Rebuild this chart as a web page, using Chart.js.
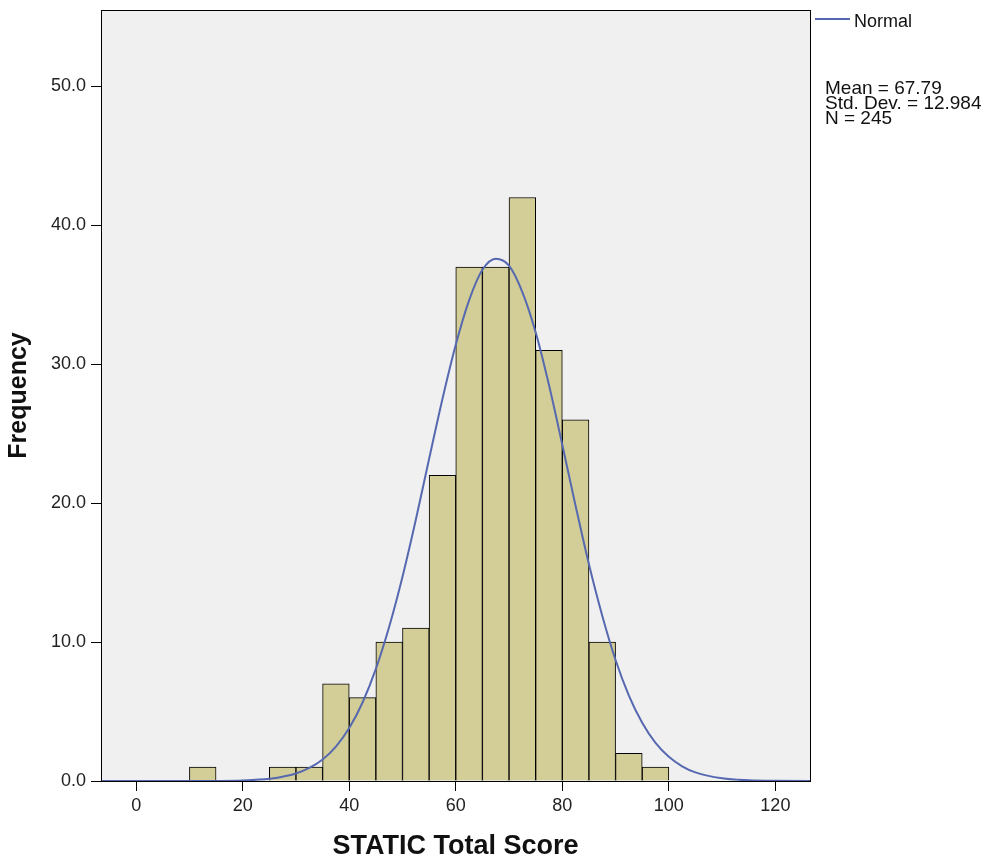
<!DOCTYPE html>
<html>
<head>
<meta charset="utf-8">
<script src="https://cdn.jsdelivr.net/npm/chart.js@4.4.1/dist/chart.umd.min.js"></script>
<style>
body { margin: 0; background: #fff; font-family: "Liberation Sans", Arial, sans-serif; }
#wrap { position: relative; width: 990px; height: 867px; }
#legend { position: absolute; left: 815px; top: 9px; color: #111; font-size: 18px; }
#legend .item { position: relative; height: 26px; }
#legend .swatch { position: absolute; left: 0; top: 9px; width: 35px; height: 2px; background: #5669b0; }
#legend .label { position: absolute; left: 39px; top: 2px; white-space: nowrap; }
#stats { position: absolute; left: 825px; top: 80px; color: #111; font-size: 19px; line-height: 15px; white-space: nowrap; }
</style>
</head>
<body>
<div id="wrap">
  <canvas id="histChart" width="990" height="867"></canvas>
  <div id="legend"><div class="item"><span class="swatch"></span><span class="label">Normal</span></div></div>
  <div id="stats">Mean = 67.79<br>Std. Dev. = 12.984<br>N = 245</div>
</div>
<script>
// Histogram bins (centre of each 5-point bin) and counts
const binCenters = [12.5, 27.5, 32.5, 37.5, 42.5, 47.5, 52.5, 57.5, 62.5, 67.5, 72.5, 77.5, 82.5, 87.5, 92.5, 97.5];
const frequencies = [1, 1, 1, 7, 6, 10, 11, 22, 37, 37, 42, 31, 26, 10, 2, 1];

// Normal curve
const curveX = [-10, 0, 10, 20, 22.5, 25, 27.5, 30, 32.5, 35, 37.5, 40, 42.5, 45, 47.5, 50, 52.5, 55, 57.5, 60,
                62.5, 65, 67.5, 70, 72.5, 75, 77.5, 80, 82.5, 85, 87.5, 90, 92.5, 95, 97.5, 100, 102.5, 105,
                110, 115, 120, 130];
const curveY = [0, 0, 0, 0.04, 0.09, 0.16, 0.31, 0.54, 0.94, 1.55, 2.48, 3.81, 5.65, 8.07, 11.1, 14.7, 18.8, 23.2, 27.5, 31.4,
                34.6, 36.8, 37.6, 37.1, 35.2, 32.3, 28.5, 24.2, 19.8, 15.6, 11.9, 8.71, 6.15, 4.19, 2.74, 1.74, 1.06, 0.62,
                0.19, 0.05, 0.01, 0];

const xTicks = [0, 20, 40, 60, 80, 100, 120];
const yTicks = [0, 10, 20, 30, 40, 50];

// fond gris + cadre de la zone de tracé
const plotFrame = {
    id: 'plotFrame',
    beforeDraw(chart) {
        const a = chart.chartArea;
        const c = chart.ctx;
        c.save();
        c.fillStyle = '#f0f0f0';
        c.fillRect(a.left, a.top, a.right - a.left, a.bottom - a.top);
        c.restore();
    },
    afterDraw(chart) {
        const a = chart.chartArea;
        const c = chart.ctx;
        c.save();
        c.strokeStyle = '#000';
        c.lineWidth = 1;
        c.strokeRect(Math.round(a.left) + 0.5, Math.round(a.top) + 0.5, Math.round(a.right - a.left), Math.round(a.bottom - a.top));
        c.restore();
    }
};

const tickFont = { family: '"Liberation Sans", Arial, sans-serif', size: 18 };

new Chart(document.getElementById('histChart'), {
    type: 'bar',
    data: {
        datasets: [
            {
                type: 'line',
                label: 'Normal',
                data: curveX.map((x, i) => ({ x: x, y: curveY[i] })),
                borderColor: '#5669b0',
                borderWidth: 2,
                pointRadius: 0,
                cubicInterpolationMode: 'monotone',
                fill: false,
                order: 0
            },
            {
                label: 'Frequency',
                data: binCenters.map((x, i) => ({ x: x, y: frequencies[i] })),
                backgroundColor: '#d3ce97',
                borderColor: '#000',
                borderWidth: 1,
                barPercentage: 1,
                categoryPercentage: 1,
                order: 1
            }
        ]
    },
    options: {
        responsive: false,
        animation: false,
        layout: { padding: { left: 0, top: 10, right: 180, bottom: 0 } },
        plugins: {
            legend: { display: false },
            tooltip: { enabled: false }
        },
        scales: {
            x: {
                type: 'linear',
                offset: false,
                min: -6.6,
                max: 126.5,
                afterBuildTicks: (scale) => { scale.ticks = xTicks.map(v => ({ value: v })); },
                afterFit: (scale) => { scale.height = 86; scale.paddingLeft = 0; scale.paddingRight = 0; },
                grid: { offset: false, drawOnChartArea: false, drawTicks: true, tickLength: 10, color: '#000' },
                border: { display: true, color: '#000' },
                ticks: { color: '#222', font: tickFont, padding: 4, maxRotation: 0 },
                title: { display: true, text: 'STATIC Total Score', color: '#111',
                         font: { family: '"Liberation Sans", Arial, sans-serif', size: 27, weight: 'bold' }, padding: { top: 10 } }
            },
            y: {
                min: 0,
                max: 55.5,
                afterBuildTicks: (scale) => { scale.ticks = yTicks.map(v => ({ value: v })); },
                afterFit: (scale) => { scale.width = 101; scale.paddingTop = 0; scale.paddingBottom = 0; },
                grid: { drawOnChartArea: false, drawTicks: true, tickLength: 10, color: '#000' },
                border: { display: true, color: '#000' },
                ticks: { color: '#222', font: tickFont, padding: 5, callback: (v) => v.toFixed(1) },
                title: { display: true, text: 'Frequency', color: '#111',
                         font: { family: '"Liberation Sans", Arial, sans-serif', size: 25, weight: 'bold' }, padding: { bottom: 6 } }
            }
        }
    },
    plugins: [plotFrame]
});
</script>
</body>
</html>
